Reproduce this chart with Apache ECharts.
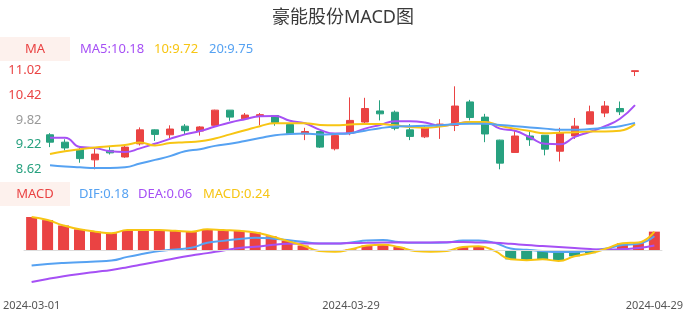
<!DOCTYPE html>
<html><head><meta charset="utf-8">
<script src="https://cdn.jsdelivr.net/npm/echarts@6/dist/echarts.min.js"></script>
<style>html,body{margin:0;padding:0;background:#fff;}#c{width:686px;height:320px;}</style>
</head><body><div id="c"></div>
<script>
const dates = ['2024-03-01','2024-03-04','2024-03-05','2024-03-06','2024-03-07','2024-03-08','2024-03-11','2024-03-12','2024-03-13','2024-03-14','2024-03-15','2024-03-18','2024-03-19','2024-03-20','2024-03-21','2024-03-22','2024-03-25','2024-03-26','2024-03-27','2024-03-28','2024-03-29','2024-04-01','2024-04-02','2024-04-03','2024-04-08','2024-04-09','2024-04-10','2024-04-11','2024-04-12','2024-04-15','2024-04-16','2024-04-17','2024-04-18','2024-04-19','2024-04-22','2024-04-23','2024-04-24','2024-04-25','2024-04-26','2024-04-29'];
const openP  = [9.46,9.28,9.10,8.85,9.08,8.92,9.24,9.58,9.46,9.67,9.55,9.69,10.06,9.85,9.92,9.93,9.71,9.48,9.54,9.12,9.50,9.77,10.04,10.01,9.58,9.41,9.67,9.69,10.26,9.89,9.33,9.03,9.43,9.45,9.06,9.43,9.72,9.99,10.10,11.00];
const closeP = [9.28,9.14,8.88,8.99,9.02,9.16,9.58,9.47,9.60,9.56,9.65,10.06,9.89,9.94,9.95,9.76,9.49,9.54,9.16,9.44,9.81,10.10,9.97,9.62,9.42,9.63,9.72,10.16,9.88,9.48,8.77,9.43,9.34,9.11,9.50,9.67,10.02,10.16,10.02,11.02];
const lowP   = [9.16,9.08,8.78,8.62,8.98,8.90,9.20,9.31,9.38,9.47,9.44,9.67,9.80,9.84,9.69,9.68,9.46,9.33,9.14,9.08,9.45,9.73,9.81,9.57,9.33,9.38,9.36,9.55,9.81,9.28,8.62,9.03,9.19,8.96,8.81,9.36,9.72,9.89,9.94,10.89];
const highP  = [9.50,9.35,9.14,9.14,9.19,9.19,9.64,9.59,9.69,9.72,9.67,10.07,10.06,9.99,9.99,9.93,9.71,9.63,9.54,9.50,10.37,10.36,10.30,10.05,9.72,9.67,9.84,10.64,10.31,9.97,9.34,9.58,9.57,9.45,9.63,9.87,10.17,10.28,10.27,11.02];
const ma5  = [9.39,9.39,9.16,9.14,9.06,9.04,9.13,9.24,9.36,9.47,9.55,9.66,9.76,9.84,9.91,9.92,9.80,9.74,9.58,9.49,9.50,9.61,9.70,9.79,9.79,9.76,9.68,9.72,9.77,9.77,9.61,9.56,9.40,9.24,9.23,9.41,9.53,9.67,9.85,10.18];
const ma10 = [8.99,9.06,9.11,9.15,9.18,9.21,9.27,9.20,9.26,9.28,9.30,9.37,9.47,9.57,9.67,9.74,9.74,9.74,9.70,9.69,9.71,9.72,9.72,9.69,9.65,9.63,9.66,9.72,9.77,9.77,9.68,9.61,9.55,9.50,9.51,9.52,9.54,9.54,9.56,9.72];
const ma20 = [8.72,8.69,8.67,8.65,8.65,8.67,8.76,8.85,8.94,9.06,9.11,9.19,9.24,9.31,9.38,9.45,9.48,9.49,9.47,9.48,9.50,9.56,9.62,9.66,9.67,9.68,9.69,9.72,9.73,9.73,9.70,9.67,9.64,9.61,9.58,9.58,9.60,9.63,9.67,9.75];
const dif  = [-0.200,-0.180,-0.166,-0.157,-0.149,-0.136,-0.088,-0.048,-0.013,0.008,0.030,0.095,0.120,0.144,0.160,0.152,0.130,0.108,0.086,0.086,0.099,0.125,0.130,0.105,0.095,0.095,0.099,0.125,0.125,0.095,0.021,0.004,-0.013,-0.026,-0.026,-0.005,0.021,0.065,0.082,0.180];
const dea  = [-0.414,-0.375,-0.340,-0.310,-0.283,-0.257,-0.222,-0.183,-0.144,-0.105,-0.070,-0.039,-0.005,0.026,0.043,0.065,0.082,0.086,0.086,0.086,0.091,0.095,0.099,0.099,0.099,0.099,0.103,0.105,0.099,0.095,0.082,0.065,0.052,0.039,0.026,0.013,0.008,0.013,0.026,0.060];
const macd = [0.43,0.39,0.32,0.27,0.24,0.22,0.26,0.26,0.26,0.25,0.24,0.27,0.26,0.25,0.23,0.18,0.12,0.06,-0.01,-0.02,0.01,0.06,0.07,0.04,-0.01,-0.02,-0.01,0.04,0.05,-0.01,-0.12,-0.13,-0.12,-0.14,-0.08,-0.04,0.02,0.09,0.10,0.24];
const priceTicks = [8.62, 9.22, 9.82, 10.42, 11.02];
const xLabelIdx = [0, 20, 39];
const titleText = '豪能股份MACD图';
const maLegend = ['MA5:10.18', '10:9.72', '20:9.75'];
const macdLegend = ['DIF:0.18', 'DEA:0.06', 'MACD:0.24'];

const RED = '#ea4343', GREEN = '#27a17f', PURPLE = '#a650f5', YELLOW = '#f7c513', BLUE = '#56a2f2';
const FONT = '"Noto Sans", "Noto Sans CJK SC", sans-serif';
const kdata = dates.map((d, i) => [openP[i], closeP[i], lowP[i], highP[i]]);
const mid = priceTicks[2];

const chart = echarts.init(document.getElementById('c'), null, {renderer: 'canvas'});
function txt(text, x, y, color, align) {
  return {type: 'text', x: x, y: y, style: {text: text, fill: color, font: '13px ' + FONT, textAlign: align || 'left', textVerticalAlign: 'middle'}};
}
chart.setOption({
  animation: false,
  backgroundColor: '#fff',
  title: {text: titleText, left: 'center', top: 4, textStyle: {fontSize: 18, fontWeight: 'normal', color: '#3a3a3a', fontFamily: FONT}},
  graphic: [
    {type: 'rect', shape: {x: 0, y: 37, width: 70, height: 24}, style: {fill: '#fdf1ed'}},
    txt('MA', 35, 49, RED, 'center'),
    txt(maLegend[0], 80, 49, PURPLE), txt(maLegend[1], 154, 49, YELLOW), txt(maLegend[2], 209, 49, BLUE),
    {type: 'rect', shape: {x: 0, y: 182, width: 70, height: 24}, style: {fill: '#fdf1ed'}},
    txt('MACD', 35, 194, RED, 'center'),
    txt(macdLegend[0], 79, 194, BLUE), txt(macdLegend[1], 138, 194, PURPLE), txt(macdLegend[2], 203, 194, YELLOW)
  ],
  grid: [
    {left: 42.5, width: 600, top: 70.7, height: 98.6},
    {left: 20, width: 646, top: 217, height: 65}
  ],
  xAxis: [
    {type: 'category', data: dates, gridIndex: 0, boundaryGap: true, axisLine: {show: false}, axisTick: {show: false}, axisLabel: {show: false}, splitLine: {show: false}},
    {type: 'category', data: dates, gridIndex: 1, boundaryGap: true, axisLine: {show: false, onZero: false}, axisTick: {show: false}, splitLine: {show: false},
     axisLabel: {interval: (i) => xLabelIdx.indexOf(i) >= 0, color: '#555', fontSize: 11, margin: 18, fontFamily: FONT}}
  ],
  yAxis: [
    {type: 'value', gridIndex: 0, min: priceTicks[0], max: priceTicks[4], scale: true, splitLine: {show: false}, axisLine: {show: false}, axisTick: {show: false},
     axisLabel: {customValues: priceTicks, margin: 1, fontSize: 13, fontFamily: FONT,
       formatter: (v) => Number(v).toFixed(2),
       color: (v) => { const n = parseFloat(v); return Math.abs(n - mid) < 0.001 ? '#999' : (n > mid ? RED : GREEN); }}},
    {type: 'value', gridIndex: 1, min: 'dataMin', max: 'dataMax', scale: true, show: false, splitLine: {show: false}}
  ],
  series: [
    {type: 'candlestick', data: kdata, xAxisIndex: 0, yAxisIndex: 0, barWidth: 8,
     itemStyle: {color: RED, color0: GREEN, borderColor: RED, borderColor0: GREEN, borderWidth: 1}},
    {type: 'line', data: ma5, xAxisIndex: 0, yAxisIndex: 0, smooth: true, showSymbol: false, lineStyle: {color: PURPLE, width: 2}},
    {type: 'line', data: ma10, xAxisIndex: 0, yAxisIndex: 0, smooth: true, showSymbol: false, lineStyle: {color: YELLOW, width: 2}},
    {type: 'line', data: ma20, xAxisIndex: 0, yAxisIndex: 0, smooth: true, showSymbol: false, lineStyle: {color: BLUE, width: 2}},
    {type: 'bar', data: macd, xAxisIndex: 1, yAxisIndex: 1, barWidth: 11,
     itemStyle: {color: (p) => p.value >= 0 ? RED : GREEN},
     markLine: {silent: true, symbol: 'none', label: {show: false}, lineStyle: {color: '#dddddd', type: 'solid', width: 1}, data: [{yAxis: 0}]}},
    {type: 'line', data: dif, xAxisIndex: 1, yAxisIndex: 1, smooth: true, showSymbol: false, lineStyle: {color: BLUE, width: 2}},
    {type: 'line', data: dea, xAxisIndex: 1, yAxisIndex: 1, smooth: true, showSymbol: false, lineStyle: {color: PURPLE, width: 2}},
    {type: 'line', data: macd, xAxisIndex: 1, yAxisIndex: 1, smooth: true, showSymbol: false, lineStyle: {color: YELLOW, width: 2}}
  ]
});
</script></body></html>
